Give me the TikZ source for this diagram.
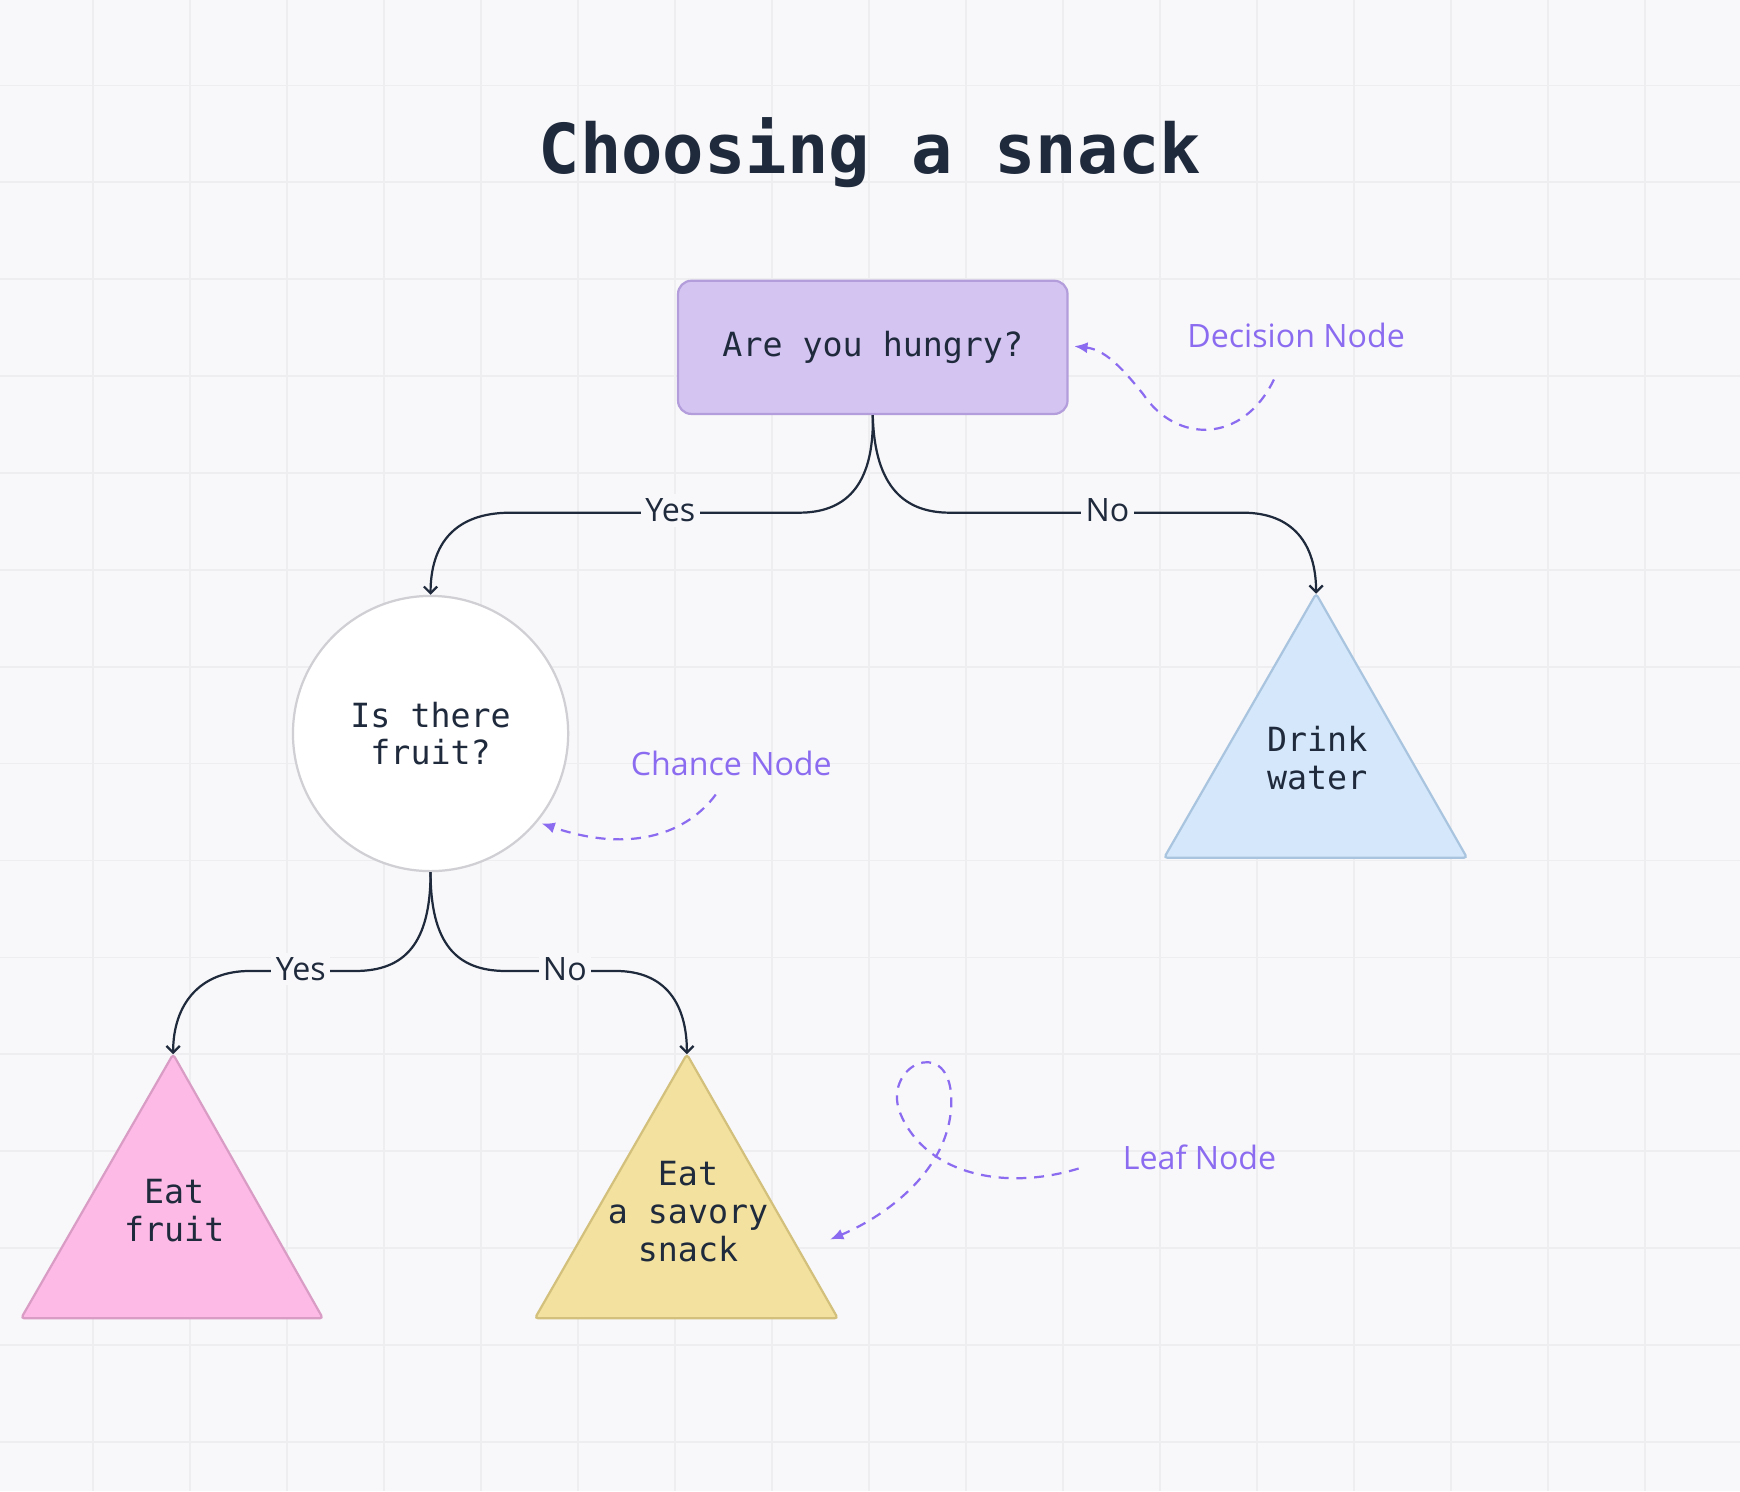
\documentclass[tikz,border=0pt]{standalone}
\usepackage{fontspec}
\setmainfont{Open Sans}
\newfontfamily\monof{DejaVu Sans Mono}
\usetikzlibrary{arrows.meta}
\definecolor{bg}{HTML}{F8F8FA}
\definecolor{gridc}{HTML}{EEEEF0}
\definecolor{ink}{HTML}{1F2A3C}
\definecolor{purp}{HTML}{8B6CF0}
\definecolor{decd}{HTML}{B39DDB}
\definecolor{decf}{HTML}{D4C4F2}
\definecolor{chd}{HTML}{CFCFD4}
\definecolor{dwd}{HTML}{A9C4DE}
\definecolor{dwf}{HTML}{D5E8FB}
\definecolor{efd}{HTML}{D99CC5}
\definecolor{eff}{HTML}{FDBAE6}
\definecolor{esd}{HTML}{D2C07C}
\definecolor{esf}{HTML}{F3E29F}
\tikzset{
  conn/.style={draw=ink,line width=2pt,-{Straight Barb[length=6pt,width=12pt]}},
  lbl/.style={fill=bg,text=ink,font=\fontsize{29}{34}\selectfont,inner sep=4pt},
  note/.style={text=purp,font=\fontsize{29}{34}\selectfont},
  ann/.style={draw=purp,line width=2pt,dash pattern=on 9pt off 7pt,-{Latex[length=12pt,width=10pt]}},
  mono/.style={text=ink,font=\monof\fontsize{30}{34}\selectfont,align=center},
}
\begin{document}
\begin{tikzpicture}[x=1pt,y=-1pt]
\fill[bg] (0,0) rectangle (1568,1344);
\useasboundingbox (0,0) rectangle (1568,1344);
\foreach \i in {0,...,17}{\draw[gridc,line width=1.5pt] (84+87.4*\i,0) -- (84+87.4*\i,1344);}
\foreach \j in {0,...,14}{\draw[gridc,line width=1.5pt] (0,77+87.3*\j) -- (1568,77+87.3*\j);}
\node[text=ink,font=\monof\bfseries\fontsize{62}{70}\selectfont] (title) at (784,138) {Choosing a snack};
\node[draw=decd,fill=decf,line width=2pt,rounded corners=12pt,minimum width=351pt,minimum height=120pt,mono] (dec) at (786.5,313) {Are you hungry?};
\node[circle,draw=chd,fill=white,line width=2pt,minimum size=248pt,mono] (ch) at (388,661) {Is there\\fruit?};
\coordinate (dw) at (1186,535);
\coordinate (ef) at (156,950);
\coordinate (es) at (619,950);
\filldraw[draw=dwd,fill=dwf,line width=2pt,rounded corners=3pt] (dw) -- (1322,773) -- (1049,773) -- cycle;
\filldraw[draw=efd,fill=eff,line width=2pt,rounded corners=3pt] (ef) -- (291,1188) -- (19,1188) -- cycle;
\filldraw[draw=esd,fill=esf,line width=2pt,rounded corners=3pt] (es) -- (755,1188) -- (482,1188) -- cycle;
\node[mono] (dwt) at (1187,683) {Drink\\water};
\node[mono] (eft) at (157,1091) {Eat\\fruit};
\node[mono] (est) at (620,1092) {Eat\\a savory\\snack};
% connectors
\draw[conn] (dec.south) .. controls (788,440) and (760,462) .. (720,462) -- (460,462) .. controls (410,462) and (388,490) .. (ch.north);
\draw[conn] (dec.south) .. controls (788,440) and (816,462) .. (856,462) -- (1120,462) .. controls (1165,462) and (1186,490) .. (dw);
\node[lbl] (y1) at (604,460) {Yes};
\node[lbl] (n1) at (998,460) {No};
\draw[conn] (ch.south) .. controls (388,850) and (365,875) .. (320,875) -- (225,875) .. controls (180,875) and (156,905) .. (ef);
\draw[conn] (ch.south) .. controls (388,850) and (411,875) .. (456,875) -- (555,875) .. controls (600,875) and (619,905) .. (es);
\node[lbl] (y2) at (271,873) {Yes};
\node[lbl] (n2) at (509,873) {No};
% annotations
\node[note] (dn) at (1168,302) {Decision Node};
\node[note] (cn) at (659,688) {Chance Node};
\node[note] (ln) at (1081,1043) {Leaf Node};
\coordinate (a1) at (1148,342);
\coordinate (a2) at (645,716);
\coordinate (a3) at (972,1053);
\draw[ann] (a1) .. controls (1120,400) and (1060,400) .. (1030,355) .. controls (1010,330) and (995,315) .. (968,312);
\draw[ann] (a2) .. controls (620,750) and (570,770) .. (488,742);
\draw[ann] (a3) .. controls (900,1075) and (830,1055) .. (810,1000) .. controls (798,960) and (852,935) .. (857,985) .. controls (862,1050) and (800,1095) .. (748,1117);
\end{tikzpicture}
\end{document}
